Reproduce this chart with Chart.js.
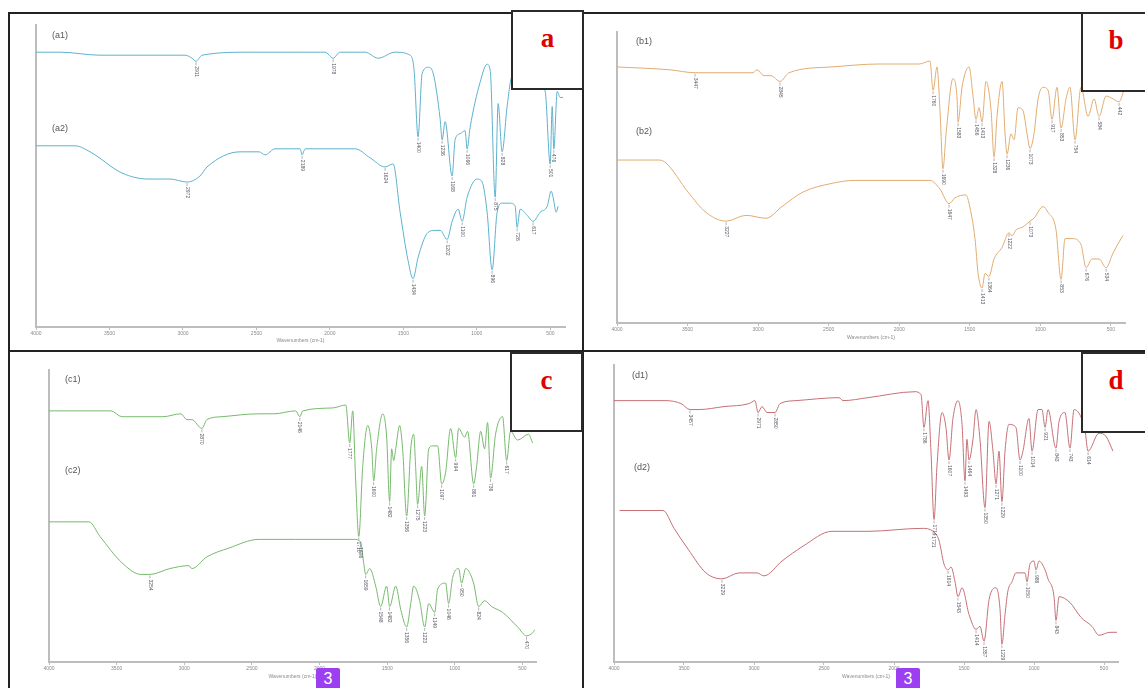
<!DOCTYPE html>
<html>
<head>
<meta charset="utf-8">
<script src="https://cdn.jsdelivr.net/npm/chart.js@4.4.0/dist/chart.umd.min.js"></script>
<style>
body { margin: 0; background: #fff; }
#page { position: relative; width: 1145px; height: 688px; overflow: hidden; background: #fff; font-family: "Liberation Sans", Arial, sans-serif; }
.cell { position: absolute; }
.ln { position: absolute; background: #222; }
.tag { position: absolute; background: #fff; border: 2px solid #2a2a2a; box-sizing: border-box; text-align: center;
       font-family: "Liberation Serif", "Times New Roman", serif; font-weight: bold; color: #e00000; font-size: 27px; line-height: 27px; padding-top: 13px; }
.sl { position: absolute; font-size: 9px; color: #555; }
.badge { position: absolute; width: 24px; height: 22px; background: #9b3ff0; color: #fff; font-size: 16px; line-height: 22px; text-align: center; border-radius: 2px; }
</style>
</head>
<body>
<div id="page">
  <div class="cell" style="left:10px;top:14px;"><canvas id="chA" width="572" height="336"></canvas></div>
  <div class="cell" style="left:585px;top:14px;"><canvas id="chB" width="560" height="336"></canvas></div>
  <div class="cell" style="left:10px;top:352px;"><canvas id="chC" width="572" height="336"></canvas></div>
  <div class="cell" style="left:585px;top:352px;"><canvas id="chD" width="560" height="336"></canvas></div>

  <!-- table rules -->
  <div class="ln" style="left:9px;top:12px;width:1136px;height:2px;"></div>
  <div class="ln" style="left:9px;top:350px;width:1136px;height:2px;"></div>
  <div class="ln" style="left:8px;top:12px;width:2px;height:676px;"></div>
  <div class="ln" style="left:582px;top:12px;width:2px;height:676px;"></div>

  <div class="sl" style="left:52px;top:30px;">(a1)</div>
  <div class="sl" style="left:52px;top:123px;">(a2)</div>
  <div class="sl" style="left:636px;top:36px;">(b1)</div>
  <div class="sl" style="left:636px;top:126px;">(b2)</div>
  <div class="sl" style="left:65px;top:374px;">(c1)</div>
  <div class="sl" style="left:65px;top:465px;">(c2)</div>
  <div class="sl" style="left:632px;top:370px;">(d1)</div>
  <div class="sl" style="left:634px;top:462px;">(d2)</div>

  <div class="tag" style="left:511px;top:10px;width:73px;height:80px;">a</div>
  <div class="tag" style="left:1081px;top:12px;width:70px;height:80px;">b</div>
  <div class="tag" style="left:510px;top:352px;width:73px;height:80px;">c</div>
  <div class="tag" style="left:1081px;top:352px;width:70px;height:81px;">d</div>

  <div class="badge" style="left:316px;top:668px;">3</div>
  <div class="badge" style="left:896px;top:668px;">3</div>
</div>
<script>
// wavenumber ticks shared by all four spectra
const xTicks = [4000, 3500, 3000, 2500, 2000, 1500, 1000, 500];

// (a) spectra
const a1Wn = [4000,3837,3564,3224,2986,2938,2911,2870,2543,2203,2033,1978,1931,1760,1672,1556,1454,1427,1400,1372,1331,1297,1250,1236,1216,1168,1148,1114,1080,1066,1046,978,930,909,875,855,828,794,760,637,535,501,487,476,453,433,413];
const a1T  = [91,91,90,90,90,89,88,90,91,91,91,89,91,91,89,91,90,85,63,84,86,84,69,62,68,50,62,64,65,59,66,81,87,85,43,74,58,73,83,84,78,54,73,59,78,76,76];
const a1Peaks = [2911,1978,1400,1236,1168,1066,875,828,501,476];

const a2Wn = [4000,3735,3632,3415,3238,3088,2972,2884,2836,2611,2482,2441,2373,2203,2189,2169,1999,1828,1726,1624,1570,1522,1468,1434,1400,1338,1284,1250,1202,1168,1127,1100,1066,998,964,930,896,862,828,773,739,726,705,658,617,569,521,494,481,460,447];
const a2T  = [60,60,58,51,49,49,48,50,53,58,58,57,59,59,57,59,59,59,56,53,54,38,22,16,23,31,32,32,29,35,39,35,43,49,48,38,19,38,41,41,40,33,39,37,35,38,40,45,43,38,40];
const a2Peaks = [2972,2189,1624,1434,1202,1100,896,726,617];

// (b) spectra
const b1Wn = [4000,3624,3447,3242,3036,3008,2958,2909,2845,2781,2476,2143,1860,1782,1760,1732,1711,1690,1668,1619,1590,1583,1555,1505,1477,1456,1434,1413,1385,1349,1328,1307,1271,1250,1236,1208,1186,1158,1123,1094,1073,1045,1016,981,945,917,882,853,818,790,754,712,662,619,584,534,485,442,407];
const b1T  = [88,87,86,86,86,87,85,85,83,86,88,89,89,90,80,88,73,53,65,84,77,69,81,88,78,70,74,69,83,73,57,71,83,65,58,65,63,74,73,65,60,65,77,81,80,70,81,67,77,81,63,81,71,77,71,78,77,76,80];
const b1Peaks = [3447,2845,1760,1690,1583,1456,1413,1328,1236,1073,917,853,754,584,442];

const b2Wn = [4000,3702,3653,3497,3369,3227,3086,2944,2831,2682,2476,2320,2016,1782,1711,1647,1605,1527,1505,1463,1441,1413,1392,1364,1328,1271,1222,1201,1172,1123,1073,1045,981,945,889,853,825,775,712,676,634,584,534,485,428,414];
const b2T  = [56,56,55,45,38,35,37,36,40,45,48,49,49,49,46,41,43,44,41,29,17,12,17,16,22,26,31,30,32,33,35,36,40,38,32,15,29,29,27,19,22,22,19,24,29,30];
const b2Peaks = [3227,1647,1413,1364,1222,1073,853,676,534];

// (c) spectra
const c1Wn = [4000,3542,3461,3158,3025,2981,2944,2870,2833,2722,2449,2338,2176,2146,2124,1903,1806,1777,1755,1733,1710,1681,1644,1614,1600,1578,1533,1504,1482,1467,1452,1437,1408,1386,1356,1326,1304,1290,1275,1245,1223,1193,1164,1127,1097,1068,1031,994,972,928,906,861,839,809,780,758,736,699,647,617,588,536,455,425];
const c1T  = [86,86,84,84,85,83,83,80,83,84,85,85,86,84,86,87,88,75,86,62,43,67,81,73,62,73,85,77,55,73,69,73,81,73,50,73,78,67,54,67,50,73,74,74,61,65,80,70,80,77,79,61,67,79,73,82,63,78,84,69,79,76,78,75];
const c1Peaks = [2870,2146,1777,1710,1600,1482,1356,1275,1223,1097,994,861,736,617];

const c2Wn = [4000,3705,3623,3461,3321,3254,3106,2966,2944,2833,2671,2449,2176,1740,1696,1674,1659,1629,1585,1548,1504,1482,1437,1400,1356,1326,1304,1260,1223,1193,1149,1127,1068,1046,1016,972,950,920,861,824,780,728,647,536,470,425,410];
const c2T  = [48,48,43,34,30,30,32,33,32,36,39,42,42,42,41,34,30,32,26,19,26,19,26,18,12,20,26,21,12,20,17,25,27,20,29,32,27,32,27,19,21,19,17,12,9,10,11];
const c2Peaks = [3254,1696,1659,1548,1482,1356,1223,1149,1046,950,824,470];

// (d) spectra
const d1Wn = [4000,3629,3521,3457,3393,3214,3036,2993,2971,2943,2907,2850,2814,2700,2393,2364,2186,1850,1807,1786,1757,1736,1714,1693,1657,1629,1607,1579,1543,1514,1493,1479,1464,1436,1414,1386,1350,1321,1293,1271,1250,1229,1207,1179,1129,1100,1079,1036,1014,971,943,921,900,843,821,779,743,714,636,614,536,486,436];
const d1T  = [88,88,87,85,85,86,87,88,84,86,84,84,87,88,89,88,89,91,90,79,88,71,48,66,84,79,68,82,88,80,61,75,68,75,85,75,52,81,71,60,71,54,71,80,79,68,71,82,71,85,85,79,85,72,81,84,72,85,78,71,77,76,71];
const d1Peaks = [3457,2971,2850,1786,1714,1607,1493,1464,1350,1271,1229,1100,1014,921,843,743,614];

const d2Wn = [3960,3650,3571,3471,3343,3229,3107,2979,2929,2800,2650,2443,2186,1800,1721,1679,1643,1614,1593,1564,1543,1514,1464,1414,1386,1357,1321,1271,1243,1229,1207,1186,1157,1129,1064,1050,1029,1000,986,964,921,900,857,843,821,743,664,586,536,457,407];
const d2T  = [51,51,45,38,30,28,30,30,29,34,39,44,44,45,44,41,33,31,32,27,22,25,16,11,12,7,21,25,18,6,16,24,27,30,30,27,33,34,31,34,31,28,22,14,22,20,15,12,9,10,10];
const d2Peaks = [3229,1721,1614,1543,1414,1357,1229,1050,986,843];

function pts(wn, t) {
    return wn.map((w, i) => ({x: w, y: t[i]}));
}

// small rotated wavenumber tags hanging under each marked band
const peakLabels = {
    id: 'peakLabels',
    afterDatasetsDraw(chart) {
        const ctx = chart.ctx;
        chart.data.datasets.forEach((ds, di) => {
            const meta = chart.getDatasetMeta(di);
            (ds.peaks || []).forEach(p => {
                const i = ds.data.findIndex(d => d.x === p);
                if (i < 0) return;
                const el = meta.data[i];
                ctx.save();
                ctx.strokeStyle = '#a0a0a8';
                ctx.lineWidth = 0.8;
                ctx.beginPath();
                ctx.moveTo(el.x, el.y + 1);
                ctx.lineTo(el.x, el.y + 4);
                ctx.stroke();
                ctx.translate(el.x, el.y + 5);
                ctx.rotate(Math.PI / 2);
                ctx.fillStyle = '#5a5a66';
                ctx.font = '5px "Liberation Sans", Arial';
                ctx.textBaseline = 'middle';
                ctx.fillText(String(p), 0, 0);
                ctx.restore();
            });
        });
    }
};

function build_panel(id, sets, color, pad, axisH, titlePad) {
    new Chart(document.getElementById(id), {
        type: 'line',
        data: {
            datasets: sets.map(s => ({
                label: s.name,
                data: pts(s.wn, s.t),
                peaks: s.peaks,
                borderColor: color,
                borderWidth: 1,
                pointRadius: 0,
                fill: false,
                cubicInterpolationMode: 'monotone'
            }))
        },
        options: {
            responsive: false,
            animation: false,
            layout: {padding: pad},
            plugins: {legend: {display: false}, tooltip: {enabled: false}},
            scales: {
                x: {
                    type: 'linear', reverse: true, min: 400, max: 4000,
                    afterBuildTicks: s => { s.ticks = xTicks.map(v => ({value: v})); },
                    afterFit: s => { s.height = axisH; },
                    ticks: {autoSkip: false, maxRotation: 0, font: {size: 5}, color: '#8a8a8a', padding: 1,
                            callback: v => String(v)},
                    grid: {display: true, drawOnChartArea: false, drawTicks: true, tickLength: 3, color: '#bdbdbd'},
                    border: {display: true, color: '#bdbdbd', width: 2},
                    title: {display: true, text: 'Wavenumbers (cm-1)', font: {size: 5}, color: '#8a8a8a', padding: {top: 0, bottom: titlePad}}
                },
                y: {
                    min: 0, max: 100,
                    afterFit: s => { s.width = 0; },
                    ticks: {display: false},
                    grid: {display: false},
                    border: {display: true, color: '#bdbdbd', width: 2}
                }
            }
        },
        plugins: [peakLabels]
    });
}

build_panel('chA', [
    {name: 'a1', wn: a1Wn, t: a1T, peaks: a1Peaks},
    {name: 'a2', wn: a2Wn, t: a2T, peaks: a2Peaks}
], 'rgb(92,178,205)', {left: 26, right: 17, top: 11, bottom: 0}, 23, 6);

build_panel('chB', [
    {name: 'b1', wn: b1Wn, t: b1T, peaks: b1Peaks},
    {name: 'b2', wn: b2Wn, t: b2T, peaks: b2Peaks}
], 'rgb(226,172,112)', {left: 32, right: 20, top: 18, bottom: 0}, 27, 9);

build_panel('chC', [
    {name: 'c1', wn: c1Wn, t: c1T, peaks: c1Peaks},
    {name: 'c2', wn: c2Wn, t: c2T, peaks: c2Peaks}
], 'rgb(118,186,108)', {left: 39, right: 46, top: 18, bottom: 0}, 26, 8);

build_panel('chD', [
    {name: 'd1', wn: d1Wn, t: d1T, peaks: d1Peaks},
    {name: 'd2', wn: d2Wn, t: d2T, peaks: d2Peaks}
], 'rgb(198,112,118)', {left: 29, right: 27, top: 13, bottom: 0}, 26, 8);
</script>
</body>
</html>
